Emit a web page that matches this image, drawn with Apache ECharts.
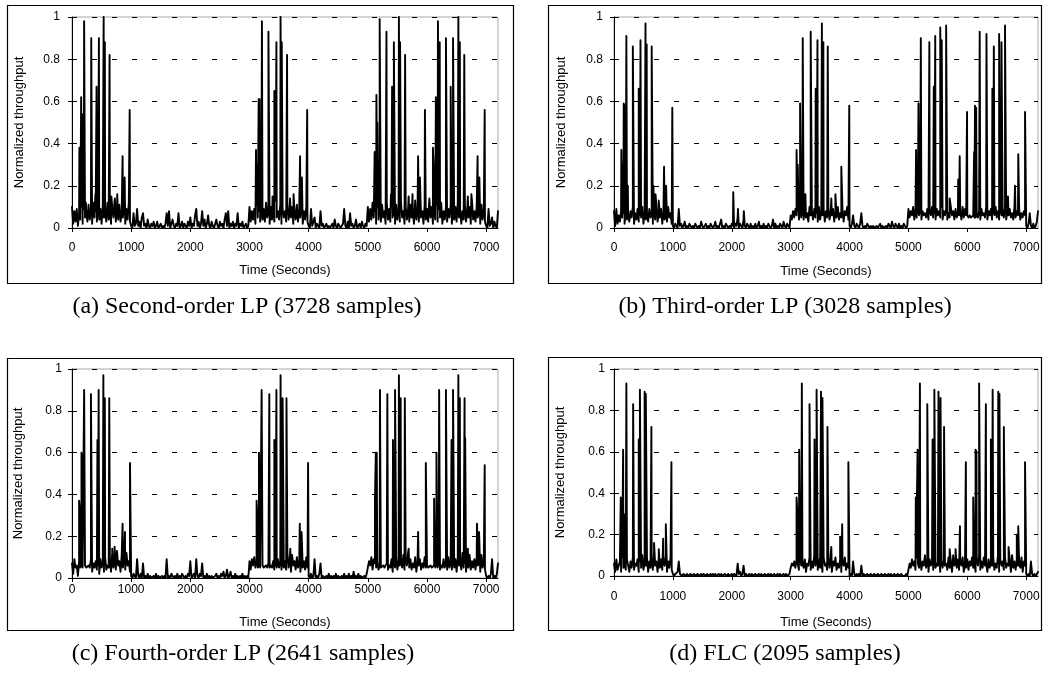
<!DOCTYPE html>
<html>
<head>
<meta charset="utf-8">
<script src="https://cdn.jsdelivr.net/npm/echarts@6/dist/echarts.min.js"></script>
<style>
html,body{margin:0;padding:0;background:#fff;}
#chart{width:1045px;height:673px;}
</style>
</head>
<body>
<div id="chart"></div>
<script>
// Sampling step (seconds) of the baseline throughput arrays
const STEP = 20;
const xTickValues = [0, 1000, 2000, 3000, 4000, 5000, 6000, 7000];
const yTickValues = [0, 0.2, 0.4, 0.6, 0.8, 1];

const captions = [
  '(a) Second-order LP (3728 samples)',
  '(b) Third-order LP (3028 samples)',
  '(c) Fourth-order LP (2641 samples)',
  '(d) FLC (2095 samples)'
];

// Baseline normalized throughput, one value every STEP seconds (0..7200 s)
const baseA = [
.10,.02,.08,.03,.09,.01,.07,.04,.10,.02,.09,.05,.08,.03,.11,.04,.09,.02,.12,.05,
.08,.03,.10,.04,.09,.02,.11,.05,.08,.03,.12,.04,.09,.02,.10,.05,.13,.03,.09,.04,
.11,.03,.08,.05,.10,.02,.09,.04,.12,.03,.01,.00,.07,.01,.02,.09,.01,.03,.00,.05,
.07,.01,.02,.00,.04,.01,.00,.02,.01,.03,.00,.01,.03,.00,.01,.02,.00,.01,.00,.02,
.07,.01,.08,.00,.02,.04,.01,.00,.02,.01,.07,.00,.01,.03,.00,.02,.01,.00,.03,.01,
.05,.00,.02,.01,.06,.09,.01,.03,.00,.02,.08,.01,.04,.00,.02,.06,.01,.00,.03,.01,
.00,.02,.04,.01,.00,.03,.01,.02,.00,.04,.07,.01,.08,.00,.02,.01,.03,.00,.02,.01,
.07,.00,.02,.01,.03,.00,.01,.02,.00,.01,.10,.03,.08,.04,.09,.02,.11,.05,.08,.03,
.10,.04,.09,.03,.12,.05,.08,.02,.10,.04,.09,.03,.13,.05,.08,.04,.11,.02,.09,.05,
.08,.03,.12,.04,.09,.05,.10,.02,.08,.04,.11,.03,.09,.05,.13,.02,.08,.04,.10,.03,
.01,.00,.09,.01,.03,.05,.00,.02,.01,.00,.08,.01,.02,.00,.01,.02,.00,.01,.00,.01,
.02,.00,.04,.01,.00,.02,.01,.00,.01,.02,.09,.01,.00,.03,.00,.07,.01,.02,.00,.01,
.04,.00,.01,.02,.00,.03,.01,.00,.02,.01,.10,.03,.09,.04,.12,.05,.08,.02,.10,.04,
.09,.03,.11,.05,.08,.02,.12,.04,.09,.03,.10,.05,.08,.02,.11,.04,.09,.03,.12,.05,
.08,.02,.10,.04,.09,.03,.11,.05,.08,.02,.13,.04,.09,.03,.10,.05,.08,.02,.11,.04,
.09,.03,.14,.05,.10,.02,.08,.04,.11,.03,.09,.05,.12,.02,.08,.04,.10,.03,.09,.05,
.11,.02,.08,.04,.10,.03,.12,.05,.09,.02,.08,.04,.11,.03,.09,.05,.10,.02,.13,.04,
.08,.03,.10,.05,.09,.02,.11,.04,.08,.03,.01,.00,.09,.01,.02,.05,.00,.03,.01,.00,
.08
];
const baseB = [
.08,.01,.09,.02,.06,.03,.08,.05,.07,.02,.09,.04,.06,.03,.08,.05,.10,.02,.07,.04,
.09,.03,.06,.05,.10,.02,.08,.04,.07,.03,.09,.05,.06,.02,.08,.04,.11,.03,.07,.05,
.09,.02,.08,.04,.06,.03,.10,.05,.07,.02,.01,.00,.02,.01,.00,.09,.01,.02,.00,.01,
.03,.00,.01,.00,.02,.01,.00,.01,.00,.02,.01,.00,.01,.00,.03,.01,.00,.01,.02,.00,
.01,.00,.02,.01,.00,.01,.03,.00,.01,.00,.02,.04,.00,.01,.00,.02,.01,.00,.01,.00,
.02,.01,.00,.02,.01,.05,.00,.02,.01,.00,.04,.01,.00,.02,.01,.00,.02,.00,.01,.00,
.02,.00,.01,.03,.00,.01,.00,.02,.00,.01,.00,.02,.01,.00,.01,.04,.00,.02,.00,.01,
.00,.02,.01,.00,.03,.01,.00,.02,.01,.00,.06,.04,.08,.05,.09,.06,.08,.04,.10,.05,
.08,.04,.09,.05,.07,.03,.10,.06,.08,.04,.09,.05,.07,.03,.10,.04,.08,.06,.09,.03,
.08,.05,.10,.04,.07,.06,.09,.03,.08,.05,.10,.04,.07,.05,.09,.03,.08,.06,.10,.04,
.01,.00,.02,.06,.01,.00,.02,.01,.00,.02,.07,.01,.00,.01,.00,.02,.01,.00,.01,.00,
.01,.00,.00,.01,.00,.01,.02,.00,.01,.00,.00,.01,.00,.02,.01,.00,.03,.01,.00,.02,
.01,.00,.02,.00,.01,.00,.02,.01,.00,.01,.09,.05,.08,.06,.10,.04,.09,.05,.07,.06,
.09,.04,.08,.06,.07,.05,.09,.04,.08,.06,.10,.05,.07,.04,.09,.06,.08,.05,.10,.04,
.08,.06,.09,.04,.07,.05,.10,.06,.08,.04,.09,.05,.07,.06,.08,.04,.10,.05,.09,.06,
.06,.05,.06,.05,.05,.06,.05,.05,.06,.05,.08,.04,.09,.06,.07,.05,.10,.04,.08,.06,
.09,.04,.07,.06,.10,.05,.08,.04,.09,.06,.07,.05,.10,.04,.08,.06,.09,.05,.07,.04,
.10,.05,.08,.06,.09,.04,.07,.05,.08,.06,.01,.00,.02,.07,.01,.00,.02,.00,.01,.03,
.08
];
const baseC = [
.07,.02,.09,.05,.06,.01,.08,.05,.06,.05,.05,.06,.05,.05,.06,.05,.09,.03,.07,.05,
.08,.04,.06,.02,.09,.05,.07,.03,.10,.04,.06,.05,.08,.03,.12,.05,.09,.04,.13,.06,
.08,.03,.11,.05,.09,.04,.12,.06,.08,.03,.01,.00,.02,.01,.00,.09,.01,.00,.02,.00,
.07,.00,.01,.00,.02,.00,.01,.00,.00,.01,.00,.02,.00,.01,.00,.00,.01,.00,.01,.00,
.09,.00,.01,.00,.02,.01,.00,.01,.00,.02,.00,.01,.00,.02,.01,.00,.01,.00,.02,.01,
.08,.00,.01,.02,.00,.09,.01,.00,.02,.01,.07,.00,.01,.00,.02,.00,.01,.00,.01,.00,
.00,.01,.02,.00,.01,.00,.02,.01,.03,.00,.01,.04,.00,.01,.03,.00,.01,.00,.02,.00,
.01,.00,.01,.00,.02,.00,.01,.00,.01,.00,.08,.04,.09,.06,.10,.05,.08,.05,.06,.05,
.05,.06,.05,.05,.06,.05,.07,.05,.06,.05,.08,.04,.06,.05,.09,.05,.07,.04,.10,.05,
.08,.04,.12,.05,.09,.03,.11,.06,.08,.04,.10,.05,.07,.03,.09,.05,.08,.04,.10,.05,
.01,.00,.02,.00,.01,.09,.00,.01,.00,.02,.07,.00,.01,.00,.00,.01,.00,.02,.00,.01,
.00,.01,.00,.02,.00,.01,.00,.00,.01,.00,.02,.00,.01,.00,.02,.00,.01,.00,.03,.00,
.01,.00,.02,.00,.01,.00,.00,.01,.00,.02,.05,.08,.06,.10,.04,.09,.07,.05,.08,.04,
.06,.05,.05,.06,.05,.05,.07,.04,.06,.05,.09,.03,.07,.05,.10,.04,.08,.06,.09,.05,
.11,.04,.08,.06,.12,.05,.09,.04,.07,.05,.10,.03,.08,.06,.09,.04,.07,.05,.10,.05,
.06,.05,.05,.06,.05,.05,.06,.05,.07,.05,.08,.04,.06,.05,.09,.05,.07,.04,.10,.05,
.08,.04,.11,.05,.09,.03,.10,.06,.08,.04,.12,.05,.07,.03,.09,.05,.11,.04,.08,.05,
.09,.04,.10,.06,.08,.03,.11,.05,.07,.04,.01,.00,.01,.00,.02,.09,.00,.01,.00,.02,
.07
];
const baseD = [
.06,.02,.08,.03,.05,.07,.02,.09,.04,.06,.03,.08,.05,.02,.07,.04,.09,.03,.06,.05,
.08,.02,.07,.04,.10,.03,.06,.05,.09,.02,.07,.04,.08,.03,.11,.05,.07,.02,.09,.04,
.08,.03,.06,.05,.10,.02,.07,.04,.09,.03,.01,.00,.01,.01,.02,.07,.01,.01,.00,.01,
.01,.00,.01,.00,.00,.01,.00,.00,.01,.00,.00,.01,.00,.00,.01,.00,.01,.01,.00,.01,
.00,.00,.01,.00,.01,.00,.01,.00,.00,.01,.00,.01,.00,.00,.01,.01,.00,.01,.00,.00,
.01,.00,.01,.01,.00,.06,.01,.02,.00,.01,.05,.00,.01,.00,.00,.01,.00,.01,.00,.00,
.01,.00,.00,.01,.00,.01,.00,.00,.01,.00,.00,.01,.00,.01,.00,.00,.01,.00,.00,.01,
.00,.01,.00,.00,.01,.00,.01,.00,.00,.01,.04,.06,.05,.07,.04,.08,.06,.03,.09,.05,
.07,.04,.08,.02,.06,.05,.09,.03,.07,.04,.10,.05,.06,.03,.08,.04,.07,.02,.09,.05,
.06,.03,.08,.04,.10,.02,.07,.05,.09,.03,.06,.04,.08,.02,.07,.05,.09,.03,.06,.04,
.00,.01,.00,.07,.01,.00,.01,.00,.01,.00,.05,.00,.01,.00,.00,.01,.00,.00,.01,.00,
.00,.01,.00,.00,.01,.00,.00,.01,.00,.00,.01,.00,.00,.01,.00,.01,.00,.00,.01,.00,
.00,.01,.00,.00,.01,.00,.00,.00,.01,.00,.03,.06,.04,.08,.05,.07,.03,.09,.06,.04,
.08,.03,.07,.05,.10,.04,.06,.02,.08,.05,.07,.03,.09,.04,.06,.05,.10,.02,.07,.04,
.08,.05,.06,.03,.09,.04,.07,.02,.10,.05,.06,.04,.08,.03,.07,.05,.09,.02,.06,.04,
.08,.03,.07,.05,.09,.04,.06,.02,.08,.05,.10,.03,.07,.04,.09,.05,.06,.02,.08,.04,
.07,.05,.09,.03,.06,.04,.10,.02,.08,.05,.07,.03,.09,.04,.06,.05,.08,.02,.10,.04,
.07,.03,.08,.05,.06,.04,.09,.02,.07,.05,.01,.00,.01,.00,.07,.01,.00,.01,.00,.01,
.02
];

// Throughput peaks: [time (s), normalized throughput]
const peaksA = [
[125,.38],[135,.28],[155,.62],[170,.54],[185,.30],[205,.98],[235,.12],[325,.90],[395,.16],[415,.67],[455,.90],[535,1.0],[555,.88],[635,.82],[665,.15],[725,.14],[765,.16],[855,.34],[890,.24],[975,.56],
[3110,.37],[3125,.30],[3155,.61],[3170,.61],[3210,.98],[3320,.93],[3390,.15],[3420,.65],[3455,.88],[3525,1.0],[3545,.88],[3635,.82],[3685,.14],[3745,.16],[3855,.34],[3885,.24],[3975,.56],
[5115,.36],[5130,.30],[5145,.63],[5160,.50],[5200,.99],[5315,.93],[5390,.16],[5410,.67],[5440,.88],[5525,1.0],[5545,.88],[5630,.82],[5690,.15],[5755,.16],[5850,.34],[5880,.24],[5965,.56],
[6100,.38],[6115,.28],[6150,.62],[6165,.55],[6185,.98],[6215,.88],[6320,.90],[6400,.67],[6440,.90],[6530,1.0],[6555,.88],[6630,.82],[6690,.15],[6750,.16],[6855,.34],[6885,.24],[6975,.56]
];
const peaksB = [
[125,.37],[140,.30],[165,.59],[175,.58],[210,.91],[235,.20],[320,.86],[420,.66],[450,.89],[535,.97],[555,.87],[640,.86],[670,.20],[705,.16],[760,.13],[850,.29],[885,.20],[990,.57],
[2025,.17],[2105,.09],[2205,.08],
[3100,.37],[3120,.30],[3160,.59],[3205,.90],[3250,.16],[3340,.93],[3425,.66],[3455,.89],[3530,.97],[3555,.88],[3630,.86],[3690,.14],[3760,.16],[3860,.29],[3995,.58],
[5130,.37],[5150,.30],[5170,.59],[5210,.90],[5355,.88],[5430,.67],[5455,.91],[5540,.95],[5565,.89],[5640,.96],[5700,.14],[5845,.23],[5870,.34],[5995,.55],
[6115,.36],[6130,.58],[6150,.57],[6210,.93],[6325,.92],[6425,.66],[6450,.86],[6540,.92],[6580,.88],[6640,.96],[6690,.15],[6810,.20],[6865,.35],[6980,.55]
];
const peaksC = [
[120,.37],[135,.32],[160,.60],[175,.56],[205,.90],[320,.88],[430,.66],[450,.90],[530,.97],[555,.86],[630,.86],[680,.14],[720,.15],[855,.26],[895,.22],[980,.55],
[3120,.37],[3135,.28],[3160,.60],[3205,.90],[3335,.88],[3420,.66],[3455,.90],[3525,.97],[3560,.86],[3625,.86],[3690,.14],[3850,.26],[3880,.22],[3990,.55],
[5120,.37],[5135,.60],[5150,.60],[5205,.90],[5330,.88],[5425,.66],[5460,.90],[5525,.97],[5555,.86],[5625,.86],[5690,.14],[5850,.22],[5980,.55],
[6120,.38],[6160,.60],[6205,.90],[6320,.90],[6415,.66],[6440,.90],[6530,.97],[6555,.86],[6635,.86],[6645,.67],[6690,.14],[6845,.26],[6880,.22],[6975,.54]
];
const peaksD = [
[115,.38],[130,.28],[155,.61],[170,.30],[210,.93],[325,.83],[420,.66],[440,.90],[520,.89],[540,.88],[635,.72],[680,.16],[760,.13],[835,.18],[880,.25],[975,.55],
[3100,.38],[3115,.30],[3145,.61],[3190,.93],[3320,.83],[3405,.66],[3440,.90],[3515,.89],[3540,.86],[3625,.72],[3690,.14],[3840,.19],[3875,.25],[3980,.55],
[5125,.38],[5140,.30],[5155,.61],[5195,.93],[5320,.83],[5410,.66],[5440,.90],[5510,.89],[5545,.86],[5605,.72],[5700,.13],[5800,.13],[5875,.24],[5975,.55],
[6100,.38],[6140,.61],[6155,.60],[6200,.93],[6315,.83],[6400,.66],[6430,.90],[6525,.89],[6545,.88],[6620,.72],[6700,.14],[6840,.20],[6865,.24],[6980,.55]
];

function buildSeries(base, peaks) {
  const pts = base.map((v, i) => [i * STEP, v]).concat(peaks.map(p => [p[0], p[1]]));
  pts.sort((a, b) => a[0] - b[0]);
  return pts;
}

const panels = [
  {base: baseA, peaks: peaksA, grid: {left: 72, top: 17, width: 426, height: 211}, xMargin: 14, xGap: 36, yMargin: 12, yGap: 46,
   box: [7, 5, 506, 278], cap: [247, 307]},
  {base: baseB, peaks: peaksB, grid: {left: 614, top: 17, width: 424, height: 211}, xMargin: 14, xGap: 37, yMargin: 11, yGap: 46,
   box: [548, 5, 493, 278], cap: [785, 307]},
  {base: baseC, peaks: peaksC, grid: {left: 72, top: 369, width: 426, height: 209}, xMargin: 6, xGap: 38, yMargin: 10, yGap: 47,
   box: [7, 358, 506, 272], cap: [243, 654]},
  {base: baseD, peaks: peaksD, grid: {left: 614, top: 369, width: 424, height: 207}, xMargin: 15, xGap: 40, yMargin: 9, yGap: 47,
   box: [548, 357, 493, 273], cap: [785, 654]}
];

const AXIS_FONT = 'Arial, "Liberation Sans", sans-serif';
const CAP_FONT = '"Times New Roman", "Liberation Serif", serif';

const option = {
  animation: false,
  backgroundColor: '#fff',
  grid: panels.map(p => Object.assign({show: true, borderColor: '#a8a8a8', borderWidth: 1, backgroundColor: 'transparent'}, p.grid)),
  xAxis: panels.map((p, i) => ({
    type: 'value', gridIndex: i, min: 0, max: 7200, interval: 1000,
    name: 'Time (Seconds)', nameLocation: 'middle', nameGap: p.xGap,
    nameTextStyle: {fontFamily: AXIS_FONT, fontSize: 13, color: '#000'},
    axisLine: {show: true, onZero: false, lineStyle: {color: '#000', width: 1}},
    axisTick: {show: true, length: 4, customValues: xTickValues, lineStyle: {color: '#000'}},
    axisLabel: {customValues: xTickValues, margin: p.xMargin, fontFamily: AXIS_FONT, fontSize: 12, color: '#000',
      formatter: v => String(v)},
    splitLine: {show: false}
  })),
  yAxis: panels.map((p, i) => ({
    type: 'value', gridIndex: i, min: 0, max: 1, interval: 0.2,
    name: 'Normalized throughput', nameLocation: 'middle', nameGap: p.yGap,
    nameTextStyle: {fontFamily: AXIS_FONT, fontSize: 13, color: '#000'},
    axisLine: {show: true, lineStyle: {color: '#000', width: 1}},
    axisTick: {show: true, length: 4, customValues: yTickValues, lineStyle: {color: '#000'}},
    axisLabel: {customValues: yTickValues, margin: p.yMargin, fontFamily: AXIS_FONT, fontSize: 12, color: '#000'},
    splitLine: {show: true, lineStyle: {color: '#000', width: 1, type: [5, 15]}}
  })),
  series: panels.map((p, i) => ({
    type: 'line', xAxisIndex: i, yAxisIndex: i,
    data: buildSeries(p.base, p.peaks),
    showSymbol: false, symbol: 'none', sampling: null,
    lineStyle: {color: '#000', width: 1.9, join: 'round', cap: 'round'},
    z: 3
  })),
  graphic: panels.map((p, i) => ({
    type: 'rect', silent: true, z: 0,
    shape: {x: p.box[0] + 0.5, y: p.box[1] + 0.5, width: p.box[2], height: p.box[3]},
    style: {fill: 'none', stroke: '#000', lineWidth: 1.2}
  })).concat(panels.map((p, i) => ({
    type: 'text', silent: true, x: p.cap[0], y: p.cap[1],
    style: {text: captions[i], font: '24px ' + CAP_FONT, fill: '#000', textAlign: 'center', textVerticalAlign: 'middle'}
  })))
};

const chart = echarts.init(document.getElementById('chart'), null, {renderer: 'canvas'});
chart.setOption(option);
</script>
</body>
</html>
